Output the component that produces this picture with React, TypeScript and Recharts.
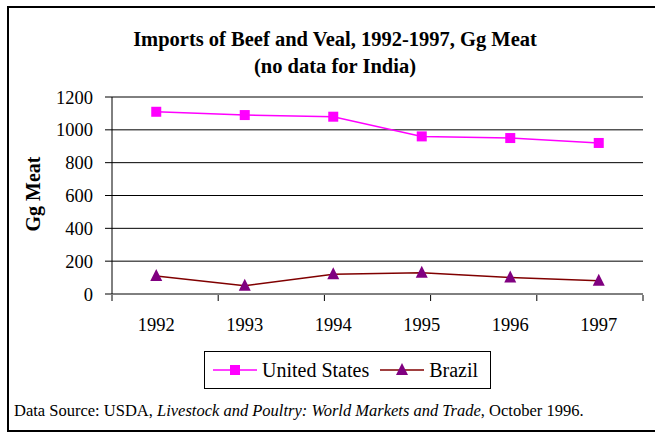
import { CartesianGrid, Legend, Line, LineChart, XAxis, YAxis } from 'recharts'

const years = ['1992', '1993', '1994', '1995', '1996', '1997']
const unitedStates = [1110, 1090, 1080, 960, 950, 920]
const brazil = [110, 50, 120, 130, 100, 80]
const yTicks = [0, 200, 400, 600, 800, 1000, 1200]
// band edges for the category tick marks (ticks sit between years)
const bandEdges = [0, 1, 2, 3, 4, 5, 6]
const legendOrder = ['United States', 'Brazil']

const data = years.map((year, i) => ({ year, us: unitedStates[i], brazil: brazil[i] }))

const serif = '"Liberation Serif", "DejaVu Serif", serif'

function SquareDot(props: any) {
  const { cx, cy, index } = props
  if (cx == null || cy == null) return null
  return <rect key={`sq-${index}`} x={cx - 5} y={cy - 5} width={10} height={10} fill="#FF00FF" />
}

function TriangleDot(props: any) {
  const { cx, cy, index } = props
  if (cx == null || cy == null) return null
  return (
    <path
      key={`tri-${index}`}
      d={`M${cx},${cy - 7} L${cx + 6},${cy + 5} L${cx - 6},${cy + 5} Z`}
      fill="#800080"
    />
  )
}

function LegendBox(props: any) {
  const payload = [...(props.payload || [])].sort(
    (a: any, b: any) => legendOrder.indexOf(a.value) - legendOrder.indexOf(b.value)
  )
  return (
    <div
      style={{
        border: '1px solid #000',
        boxSizing: 'border-box',
        height: 38,
        display: 'flex',
        alignItems: 'center',
        paddingLeft: 8,
        fontFamily: serif,
        fontSize: 20,
        color: '#000',
        background: '#fff',
        whiteSpace: 'nowrap',
      }}
    >
      {payload.map((entry: any) => (
        <div key={entry.value} style={{ display: 'flex', alignItems: 'center', marginRight: 11 }}>
          <svg width={44} height={14} style={{ marginRight: 5 }}>
            <line x1={0} x2={44} y1={7} y2={7} stroke={entry.color} strokeWidth={1.5} />
            {entry.dataKey === 'us' ? (
              <rect x={17} y={2} width={10} height={10} fill="#FF00FF" />
            ) : (
              <path d="M22,0 L28,12 L16,12 Z" fill="#800080" />
            )}
          </svg>
          <span>{entry.value}</span>
        </div>
      ))}
    </div>
  )
}

export default function App() {
  return (
    <div
      style={{
        position: 'absolute',
        left: 0,
        top: 0,
        width: 655,
        height: 435,
        overflow: 'hidden',
        background: '#fff',
        fontFamily: serif,
      }}
    >
      <div
        style={{
          position: 'absolute',
          left: 7,
          top: 6,
          width: 700,
          height: 422,
          border: '2px solid #000',
          borderRight: 'none',
        }}
      />
      <div
        style={{
          position: 'absolute',
          left: 105,
          width: 460,
          top: 26,
          textAlign: 'center',
          fontWeight: 'bold',
          fontSize: 20.5,
          lineHeight: '27px',
          color: '#000',
        }}
      >
        Imports of Beef and Veal, 1992-1997, Gg Meat
        <br />
        (no data for India)
      </div>
      <div
        style={{
          position: 'absolute',
          left: 33,
          top: 194,
          transform: 'translate(-50%, -50%) rotate(-90deg)',
          fontWeight: 'bold',
          fontSize: 20,
          whiteSpace: 'nowrap',
          color: '#000',
        }}
      >
        Gg Meat
      </div>
      <div style={{ position: 'absolute', left: 0, top: 0 }}>
        <LineChart width={655} height={435} data={data} margin={{ top: 97, right: 12, bottom: 139, left: 0 }}>
          <CartesianGrid vertical={false} stroke="#000" strokeWidth={1} />
          <XAxis
            dataKey="year"
            scale="band"
            height={1}
            interval={0}
            tickLine={false}
            axisLine={false}
            tickSize={0}
            tickMargin={24}
            tick={{ fill: '#000', fontSize: 18.5, fontFamily: serif }}
          />
          <XAxis
            xAxisId="edges"
            type="number"
            domain={[0, 6]}
            ticks={bandEdges}
            height={1}
            tickSize={6}
            tickFormatter={() => ''}
            axisLine={false}
            stroke="#000"
            allowDataOverflow
          />
          <YAxis
            width={112}
            domain={[0, 1200]}
            ticks={yTicks}
            interval={0}
            tickSize={7}
            tickMargin={12}
            stroke="#000"
            tick={{ fill: '#000', fontSize: 18.5, fontFamily: serif }}
          />
          <YAxis
            yAxisId="right"
            orientation="right"
            width={0}
            domain={[0, 1]}
            tick={false}
            tickLine={false}
            stroke="#808080"
          />
          <Legend
            layout="vertical"
            align="center"
            verticalAlign="middle"
            wrapperStyle={{ left: 204, top: 351, width: 287 }}
            content={LegendBox}
          />
          <Line
            dataKey="us"
            name="United States"
            stroke="#FF00FF"
            strokeWidth={1.5}
            dot={SquareDot}
            activeDot={false}
            isAnimationActive={false}
          />
          <Line
            dataKey="brazil"
            name="Brazil"
            stroke="#800000"
            strokeWidth={1.5}
            dot={TriangleDot}
            activeDot={false}
            isAnimationActive={false}
          />
        </LineChart>
      </div>
      <div
        style={{
          position: 'absolute',
          left: 14,
          top: 401,
          fontSize: 16.5,
          whiteSpace: 'nowrap',
          color: '#000',
        }}
      >
        Data Source: USDA, <i>Livestock and Poultry: World Markets and Trade</i>, October 1996.
      </div>
    </div>
  )
}
